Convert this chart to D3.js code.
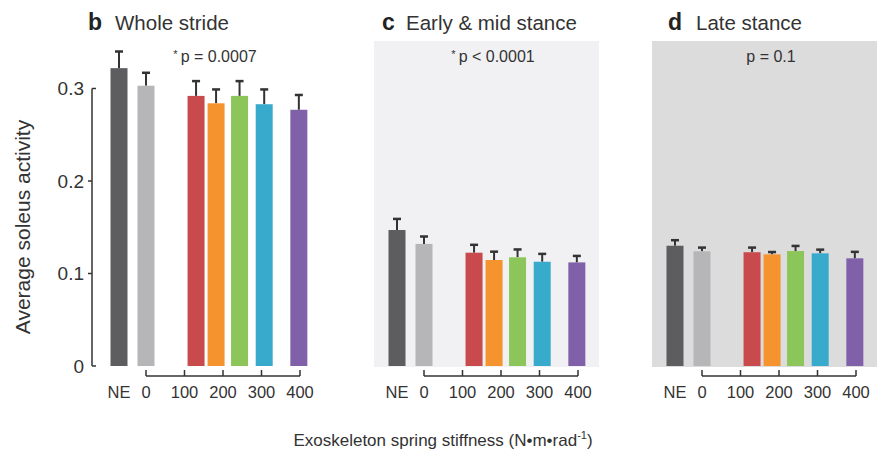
<!DOCTYPE html>
<html>
<head>
<meta charset="utf-8">
<script src="https://cdn.jsdelivr.net/npm/d3@7"></script>
<style>
  body { margin: 0; background: #fff; }
  svg { display: block; font-family: "Liberation Sans", Arial, sans-serif; }
</style>
</head>
<body>
<script>
// conditions and data
const barLabels = ["NE", "0", "k1", "k2", "k3", "k4", "k5"];
const barStiffness = [null, 0, 130, 182, 243, 307, 397];   // NE has no spring
const tickStiffness = [0, 100, 200, 300, 400];
const barColors = ["#5d5d5f", "#b6b6b8", "#c84a4c", "#f5932f", "#8cc65a", "#38abcc", "#7f60a9"];

const panelIds = ["b", "c", "d"];
const panelTitles = ["Whole stride", "Early & mid stance", "Late stance"];
const panelStats = ["p = 0.0007", "p < 0.0001", "p = 0.1"];
const panelStar = [true, true, false];

const wholeStride    = [0.322, 0.303, 0.292, 0.284, 0.292, 0.283, 0.277];
const wholeStrideErr = [0.018, 0.014, 0.016, 0.015, 0.016, 0.016, 0.016];
const earlyMid       = [0.147, 0.132, 0.1225, 0.1146, 0.1175, 0.1127, 0.112];
const earlyMidErr    = [0.012, 0.008, 0.0085, 0.009, 0.0085, 0.0085, 0.007];
const lateStance     = [0.130, 0.124, 0.123, 0.1207, 0.1243, 0.1218, 0.1164];
const lateStanceErr  = [0.006, 0.004, 0.005, 0.0025, 0.0055, 0.004, 0.007];

const yTicks = [0, 0.1, 0.2, 0.3];

const W = 886, H = 459;
const panelBg = ["none", "#f1f1f3", "#dcdcdd"];
const titleX = [88, 382, 668];          // where each panel letter starts

const svg = d3.select("body").append("svg")
    .attr("width", W)
    .attr("height", H);

const y = d3.scaleLinear().domain([0, 0.3]).range([366, 88.5]);

// center of the NE bar in each panel
const panelX = d3.scalePoint().domain(panelIds).range([119, 675]);

const series = [
    {vals: wholeStride, err: wholeStrideErr},
    {vals: earlyMid, err: earlyMidErr},
    {vals: lateStance, err: lateStanceErr}
];

const barW = 17;

panelIds.forEach((id, i) => {
    const P = panelX(id);
    const x = d3.scaleLinear().domain([0, 400]).range([P + 27, P + 181]);
    const cx = j => barStiffness[j] === null ? P : x(barStiffness[j]);
    const g = svg.append("g");

    if (panelBg[i] !== "none") {
        g.append("rect")
            .attr("x", P - 23)
            .attr("y", 41)
            .attr("width", 225)
            .attr("height", y(0) - 41 + 1)
            .attr("fill", panelBg[i]);
    }

    // title
    g.append("text")
        .attr("x", titleX[i])
        .attr("y", 30)
        .attr("font-size", 23)
        .attr("font-weight", "bold")
        .attr("fill", "#222")
        .text(id);
    g.append("text")
        .attr("x", titleX[i] + (id == "b" ? 27 : id == "c" ? 24 : 28))
        .attr("y", 30)
        .attr("font-size", 20.5)
        .attr("fill", "#333")
        .text(panelTitles[i]);

    // p value
    const pt = g.append("text")
        .attr("x", P + 96)
        .attr("y", 62)
        .attr("text-anchor", "middle")
        .attr("font-size", 16)
        .attr("fill", "#333");
    if (panelStar[i]) {
        pt.append("tspan").attr("font-size", 11).attr("dy", -4).text("* ");
        pt.append("tspan").attr("dy", 4).text(panelStats[i]);
    } else {
        pt.text(panelStats[i]);
    }

    const s = series[i];
    const bars = g.selectAll(".bar")
        .data(s.vals.map((v, j) => ({v, e: s.err[j], j})))
        .enter();

    // error bars (upper only)
    bars.append("line")
        .attr("x1", d => cx(d.j)).attr("x2", d => cx(d.j))
        .attr("y1", d => y(d.v)).attr("y2", d => y(d.v + d.e))
        .attr("stroke", "#333").attr("stroke-width", 2);
    bars.append("line")
        .attr("x1", d => cx(d.j) - 4).attr("x2", d => cx(d.j) + 4)
        .attr("y1", d => y(d.v + d.e)).attr("y2", d => y(d.v + d.e))
        .attr("stroke", "#333").attr("stroke-width", 2.5);

    bars.append("rect")
        .attr("class", "bar")
        .attr("x", d => cx(d.j) - barW / 2)
        .attr("y", d => y(d.v))
        .attr("width", barW)
        .attr("height", d => y(0) - y(d.v))
        .attr("fill", d => barColors[d.j]);

    // stiffness bracket axis
    const by = 376;
    g.append("line")
        .attr("x1", x(0)).attr("x2", x(400))
        .attr("y1", by).attr("y2", by)
        .attr("stroke", "#333").attr("stroke-width", 1.5);
    g.selectAll(".stick").data(tickStiffness).enter().append("line")
        .attr("x1", d => x(d)).attr("x2", d => x(d))
        .attr("y1", by).attr("y2", by - 6)
        .attr("stroke", "#333").attr("stroke-width", 1.5);
    g.selectAll(".slab").data(tickStiffness).enter().append("text")
        .attr("x", d => x(d))
        .attr("y", 398)
        .attr("text-anchor", "middle")
        .attr("font-size", 16.5)
        .attr("fill", "#333")
        .text(d => d);
    g.append("text")
        .attr("x", P)
        .attr("y", 398)
        .attr("text-anchor", "middle")
        .attr("font-size", 16.5)
        .attr("fill", "#333")
        .text("NE");
});

// y axis (panel b only)
const ax = panelX("b") - 27;
svg.append("line")
    .attr("x1", ax).attr("x2", ax)
    .attr("y1", y(0)).attr("y2", y(0.3))
    .attr("stroke", "#333").attr("stroke-width", 1.5);
svg.selectAll(".ytick").data(yTicks).enter().append("line")
    .attr("x1", ax)
    .attr("x2", d => (d === 0 || d === 0.3) ? ax + 4 : ax - 4)
    .attr("y1", d => y(d)).attr("y2", d => y(d))
    .attr("stroke", "#333").attr("stroke-width", 1.5);
svg.selectAll(".ylab").data(yTicks).enter().append("text")
    .attr("x", ax - 8)
    .attr("y", d => y(d))
    .attr("dy", "0.35em")
    .attr("text-anchor", "end")
    .attr("font-size", 19)
    .attr("fill", "#333")
    .text(d => d === 0 ? "0" : d3.format(".1f")(d));

svg.append("text")
    .attr("transform", "translate(30,227) rotate(-90)")
    .attr("text-anchor", "middle")
    .attr("font-size", 21)
    .attr("fill", "#333")
    .text("Average soleus activity");

const xt = svg.append("text")
    .attr("x", 443)
    .attr("y", 446)
    .attr("text-anchor", "middle")
    .attr("font-size", 17)
    .attr("fill", "#333");
xt.append("tspan").text("Exoskeleton spring stiffness (N\u2022m\u2022rad");
xt.append("tspan").attr("font-size", 11).attr("dy", -7).text("-1");
xt.append("tspan").attr("dy", 7).text(")");
</script>
</body>
</html>
